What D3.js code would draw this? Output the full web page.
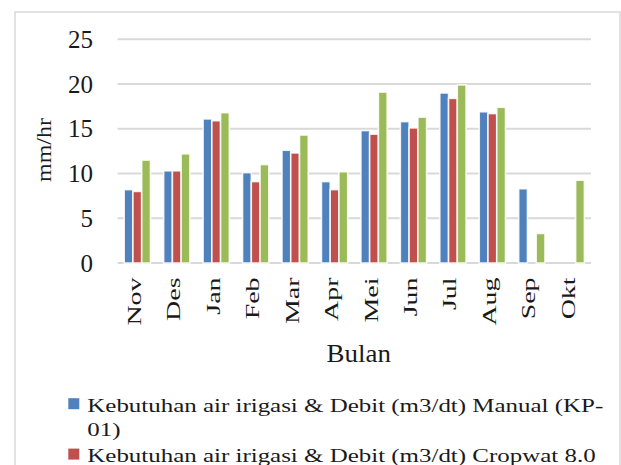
<!DOCTYPE html>
<html>
<head>
<meta charset="utf-8">
<script src="https://cdn.jsdelivr.net/npm/d3@7"></script>
<style>
  body { margin: 0; background: #fff; }
  text { font-family: "Liberation Serif", "Times New Roman", serif; fill: #1a1a1a; }
</style>
</head>
<body>
<div id="chart"></div>
<script>
const months = ["Nov", "Des", "Jan", "Feb", "Mar", "Apr", "Mei", "Jun", "Jul", "Aug", "Sep", "Okt"];
const manualKP01 = [8.2, 10.3, 16.1, 10.1, 12.6, 9.1, 14.8, 15.8, 19.0, 16.9, 8.3, 0];
const cropwat8 = [8.0, 10.3, 15.9, 9.1, 12.3, 8.2, 14.4, 15.1, 18.4, 16.7, 0, 0];
const debitAndalan = [11.5, 12.2, 16.8, 11.0, 14.3, 10.2, 19.1, 16.3, 19.9, 17.4, 3.3, 9.25];
const seriesNames = [
  "Kebutuhan air irigasi & Debit (m3/dt) Manual (KP-01)",
  "Kebutuhan air irigasi & Debit (m3/dt) Cropwat 8.0",
  "Debit andalan"
];
const seriesColors = ["#4F81BD", "#C0504D", "#9BBB59"];
const yTicks = [0, 5, 10, 15, 20, 25];

const allSeries = [manualKP01, cropwat8, debitAndalan];

const width = 621, height = 465;
const margin = { left: 117.6, right: 30, top: 39.3, bottom: 202 };
const boundedWidth = width - margin.left - margin.right;
const boundedHeight = height - margin.top - margin.bottom;

const svg = d3.select("#chart").append("svg")
  .attr("width", width)
  .attr("height", height);

// chart frame
svg.append("rect")
  .attr("x", 15).attr("y", 12)
  .attr("width", 605).attr("height", 480)
  .attr("fill", "none")
  .attr("stroke", "#D9D9D9")
  .attr("stroke-width", 1.5);

const bounds = svg.append("g")
  .attr("transform", `translate(${margin.left},${margin.top})`);

const xScale = d3.scaleBand()
  .domain(months)
  .range([0, boundedWidth])
  .paddingInner(0.335)
  .paddingOuter(0.335 / 2);

const xInner = d3.scaleBand()
  .domain(d3.range(allSeries.length))
  .range([0, xScale.bandwidth()]);

const yScale = d3.scaleLinear()
  .domain([0, 25])
  .range([boundedHeight, 0]);

// gridlines
bounds.append("g")
  .selectAll("line")
  .data(yTicks)
  .join("line")
  .attr("x1", 0).attr("x2", boundedWidth)
  .attr("y1", d => yScale(d)).attr("y2", d => yScale(d))
  .attr("stroke", "#D9D9D9")
  .attr("stroke-width", 2);

// y tick labels
bounds.append("g")
  .selectAll("text")
  .data(yTicks)
  .join("text")
  .attr("x", -24.6)
  .attr("y", d => yScale(d) + 8.6)
  .attr("text-anchor", "end")
  .style("font-size", "25px")
  .text(d => d);

// bars
const groups = bounds.append("g")
  .selectAll("g")
  .data(months)
  .join("g")
  .attr("transform", d => `translate(${xScale(d)},0)`);

groups.selectAll("rect")
  .data((m, i) => allSeries.map((s, k) => ({ k, v: s[i] })))
  .join("rect")
  .attr("x", d => xInner(d.k))
  .attr("width", xInner.bandwidth())
  .attr("y", d => yScale(d.v))
  .attr("height", d => yScale(0) - yScale(d.v))
  .attr("fill", d => seriesColors[d.k])
  .attr("stroke", "#fff")
  .attr("stroke-opacity", 0.85)
  .attr("stroke-width", d => d.v > 0 ? 1.6 : 0);

// x tick labels (rotated)
bounds.append("g")
  .selectAll("text")
  .data(months)
  .join("text")
  .attr("transform", d => `translate(${xScale(d) + xScale.bandwidth() / 2 + 3.5},${boundedHeight + 14.5}) rotate(-90) scale(1.55,1)`)
  .attr("text-anchor", "end")
  .style("font-size", "18px")
  .text(d => d);

// axis titles
svg.append("text")
  .attr("transform", "translate(51,150) rotate(-90) scale(1.2,1)")
  .attr("text-anchor", "middle")
  .style("font-size", "20px")
  .text("mm/hr");

svg.append("text")
  .attr("transform", "translate(358.8,361.7) scale(1.1,1)")
  .attr("text-anchor", "middle")
  .style("font-size", "24.5px")
  .text("Bulan");

// legend
const legendX = 68.3, textX = 87.3, lineH = 24.6, legendFont = 19.5, stretch = 1.28, maxW = 522;
let baseY = 411.7;
const legend = svg.append("g");

seriesNames.forEach((name, k) => {
  legend.append("rect")
    .attr("x", legendX).attr("y", baseY - 13.5)
    .attr("width", 11).attr("height", 11)
    .attr("fill", seriesColors[k]);

  const tokens = name.split(/(?<=[ -])/);
  const probe = legend.append("text").style("font-size", legendFont + "px");
  const lines = [];
  let cur = "";
  tokens.forEach(t => {
    const test = cur + t;
    probe.text(test.trimEnd());
    if (cur && probe.node().getComputedTextLength() * stretch > maxW) {
      lines.push(cur.trimEnd());
      cur = t;
    } else {
      cur = test;
    }
  });
  lines.push(cur.trimEnd());
  probe.remove();

  lines.forEach((ln, j) => {
    legend.append("text")
      .attr("transform", `translate(${textX},${baseY + j * lineH}) scale(${stretch},1)`)
      .style("font-size", legendFont + "px")
      .text(ln);
  });
  baseY += lines.length * lineH + 1.2;
});
</script>
</body>
</html>
